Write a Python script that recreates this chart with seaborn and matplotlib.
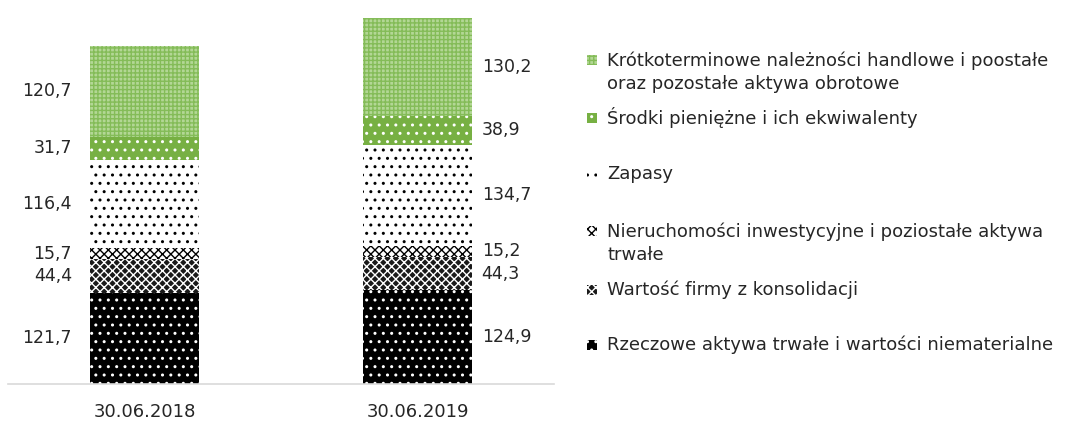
import numpy as np
import pandas as pd
import seaborn as sns
import matplotlib
matplotlib.use('Agg')
import matplotlib.pyplot as plt
from matplotlib.patches import Rectangle

dates = ['30.06.2018', '30.06.2019']
# od dołu do góry
series = [
    'Rzeczowe aktywa trwałe i wartości niematerialne',
    'Wartość firmy z konsolidacji',
    'Nieruchomości inwestycyjne i poziostałe aktywa\ntrwałe',
    'Zapasy',
    'Środki pieniężne i ich ekwiwalenty',
    'Krótkoterminowe należności handlowe i poostałe\noraz pozostałe aktywa obrotowe',
]
rzeczowe = [121.7, 124.9]
wartosc_firmy = [44.4, 44.3]
nieruchomosci = [15.7, 15.2]
zapasy = [116.4, 134.7]
srodki = [31.7, 38.9]
naleznosci = [120.7, 130.2]
values = [rzeczowe, wartosc_firmy, nieruchomosci, zapasy, srodki, naleznosci]

# (kolor wypełnienia, kolor wzoru, wzór)
styles = [
    ('#000000', '#ffffff', '..'),
    ('#1a1a1a', '#ffffff', 'xxxx'),
    ('#ffffff', '#000000', 'xxxx'),
    ('#ffffff', '#000000', '..'),
    ('#77b043', '#ffffff', '..'),
    ('#b3d795', '#84bc58', '++++'),
]

sns.set_style('white')
plt.rcParams['font.family'] = ['DejaVu Sans']
plt.rcParams['hatch.linewidth'] = 1.0

W, H = 1069, 423
fig = plt.figure(figsize=(W / 100, H / 100), dpi=100)
ax = fig.add_axes([8 / W, (H - 384) / H, 546 / W, 375 / H])

bottom = np.zeros(len(dates))
for vals, (face, hcol, hatch) in zip(values, styles):
    sns.barplot(x=dates, y=vals, bottom=bottom, ax=ax, width=0.4, color=face,
                saturation=1, edgecolor=hcol, hatch=hatch, linewidth=0,
                errorbar=None)
    mids = bottom + np.array(vals) / 2
    ax.text(-0.266, mids[0], f'{vals[0]:.1f}'.replace('.', ','), ha='right',
            va='center', fontsize=12.5, color='#262626')
    ax.text(1.235, mids[1], f'{vals[1]:.1f}'.replace('.', ','), ha='left',
            va='center', fontsize=12.5, color='#262626')
    bottom = bottom + np.array(vals)

ax.set_xlim(-0.5, 1.5)
ax.set_ylim(0, 500)
ax.set_yticks([])
ax.set_xlabel('')
ax.set_ylabel('')
for s in ['top', 'right', 'left']:
    ax.spines[s].set_visible(False)
ax.spines['bottom'].set_color('#d9d9d9')
ax.spines['bottom'].set_linewidth(1.2)
ax.tick_params(axis='x', length=0, labelsize=13, labelcolor='#262626', pad=14)

# legenda (od góry)
leg_marker_y = [60, 118, 174, 231, 290, 345]
leg_text_y = [72.5, 118, 174, 243, 290, 345]
for i, idx in enumerate(range(len(series) - 1, -1, -1)):
    face, hcol, hatch = styles[idx]
    my = leg_marker_y[i]
    fig.add_artist(Rectangle((587 / W, (H - my - 5) / H), 10 / W, 10 / H,
                             transform=fig.transFigure, facecolor=face,
                             edgecolor=hcol, hatch=hatch, linewidth=0))
    fig.text(607 / W, (H - leg_text_y[i]) / H, series[idx], ha='left',
             va='center', fontsize=13, color='#262626', linespacing=1.35)

fig.savefig('out.png', dpi=100)
